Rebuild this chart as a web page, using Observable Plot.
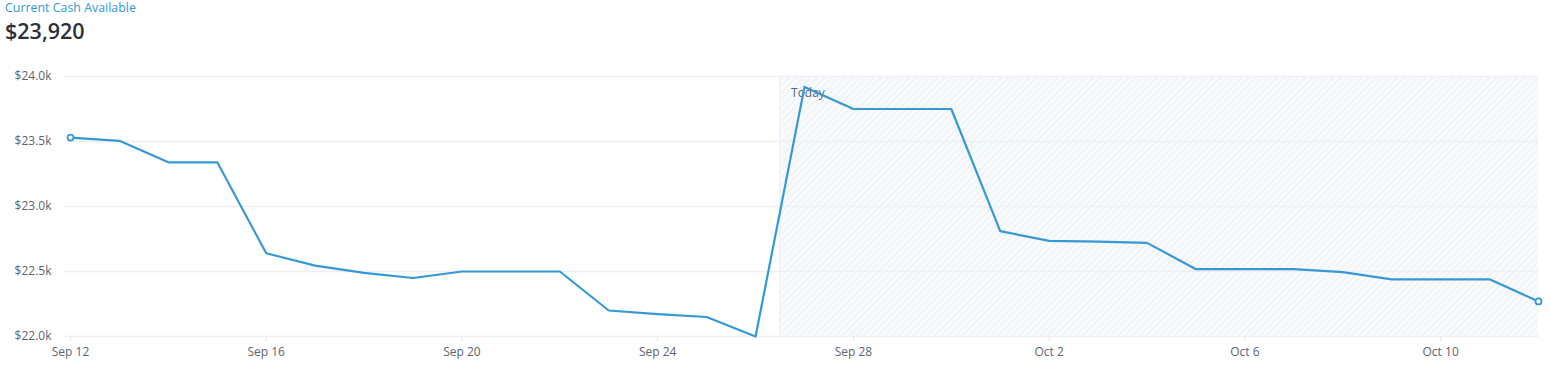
<!DOCTYPE html>
<html>
<head>
<meta charset="utf-8">
<script src="https://cdn.jsdelivr.net/npm/d3@7"></script>
<script src="https://cdn.jsdelivr.net/npm/@observablehq/plot@0.6"></script>
<style>
  html, body { margin: 0; padding: 0; background: #fff; }
  body { width: 1550px; height: 381px; position: relative; overflow: hidden; font-family: "Open Sans", sans-serif; }
  #label { position: absolute; left: 5px; top: 0px; font-size: 12.4px; color: #2f9ad8; line-height: 16px; }
  #value { position: absolute; left: 5px; top: 16px; font-size: 21.5px; font-weight: 600; color: #2c3038; line-height: 30px; }
  #chart { position: absolute; left: 0; top: 60px; }
</style>
</head>
<body>
<div id="label">Current Cash Available</div>
<div id="value">$23,920</div>
<div id="chart"></div>
<script>
// Daily cash balance, Sep 12 – Oct 12
const dates = [
  "2023-09-12","2023-09-13","2023-09-14","2023-09-15","2023-09-16","2023-09-17","2023-09-18",
  "2023-09-19","2023-09-20","2023-09-21","2023-09-22","2023-09-23","2023-09-24","2023-09-25",
  "2023-09-26","2023-09-27","2023-09-28","2023-09-29","2023-09-30","2023-10-01","2023-10-02",
  "2023-10-03","2023-10-04","2023-10-05","2023-10-06","2023-10-07","2023-10-08","2023-10-09",
  "2023-10-10","2023-10-11","2023-10-12"
];
const cash = [
  23530, 23505, 23340, 23340, 22640, 22545, 22490,
  22450, 22500, 22500, 22500, 22200, 22172, 22150,
  22000, 23920, 23750, 23750, 23750, 22810, 22735,
  22730, 22720, 22518, 22518, 22518, 22495, 22440,
  22440, 22440, 22270
];
const yTicks = [22000, 22500, 23000, 23500, 24000];
const xTickDates = ["2023-09-12","2023-09-16","2023-09-20","2023-09-24","2023-09-28","2023-10-02","2023-10-06","2023-10-10"];
const todayStart = "2023-09-26T12:00:00Z";
const todayLabel = "Today";

const parse = s => new Date(s.length === 10 ? s + "T00:00:00Z" : s);
const data = dates.map((d, i) => ({date: parse(d), value: cash[i]}));
const endpoints = [data[0], data[data.length - 1]];
const forecast = [{x1: parse(todayStart), x2: data[data.length - 1].date, y1: yTicks[0], y2: yTicks[yTicks.length - 1]}];

const lineColor = "#3599d6";
const textColor = "#5d6470";
const gridColor = "#eef0f5";

const chart = Plot.plot({
  width: 1550,
  height: 321,
  marginTop: 16,
  marginBottom: 45,
  marginLeft: 70,
  marginRight: 12,
  style: {fontFamily: "'Open Sans', sans-serif", fontSize: "12px", color: textColor, background: "transparent"},
  x: {type: "utc", domain: [data[0].date, data[data.length - 1].date]},
  y: {domain: [yTicks[0], yTicks[yTicks.length - 1]]},
  marks: [
    Plot.rect(forecast, {x1: "x1", x2: "x2", y1: "y1", y2: "y2", fill: "url(#hatch)"}),
    Plot.ruleX(forecast, {x: "x1", stroke: "#e9ecf3", strokeWidth: 1}),
    Plot.ruleY(yTicks, {stroke: gridColor, strokeWidth: 1.5, insetLeft: -7}),
    Plot.axisY(yTicks, {tickSize: 0, tickPadding: 19, tickFormat: d => "$" + (d / 1000).toFixed(1) + "k", fill: textColor, label: null}),
    Plot.axisX(xTickDates.map(parse), {tickSize: 5, tickPadding: 6, stroke: "#e3e6ec", fill: textColor, tickFormat: d3.utcFormat("%b %-d"), label: null}),
    Plot.text([{date: parse(todayStart), v: yTicks[yTicks.length - 1]}], {x: "date", y: "v", text: () => todayLabel, dx: 11, dy: 17, textAnchor: "start", fill: textColor, fontSize: 12}),
    Plot.line(data, {x: "date", y: "value", stroke: lineColor, strokeWidth: 2.2}),
    Plot.dot(endpoints, {x: "date", y: "value", r: 3, fill: "white", stroke: lineColor, strokeWidth: 1.8})
  ]
});

// hatch pattern definition for the forecast area
const ns = "http://www.w3.org/2000/svg";
const defs = document.createElementNS(ns, "defs");
defs.innerHTML = `<pattern id="hatch" patternUnits="userSpaceOnUse" width="5" height="5" patternTransform="rotate(45)">
  <rect width="5" height="5" fill="#f9fafc"></rect>
  <line x1="0" y1="0" x2="0" y2="5" stroke="#e6e9f1" stroke-width="1.4"></line>
</pattern>`;
chart.insertBefore(defs, chart.firstChild);
document.getElementById("chart").appendChild(chart);
</script>
</body>
</html>
